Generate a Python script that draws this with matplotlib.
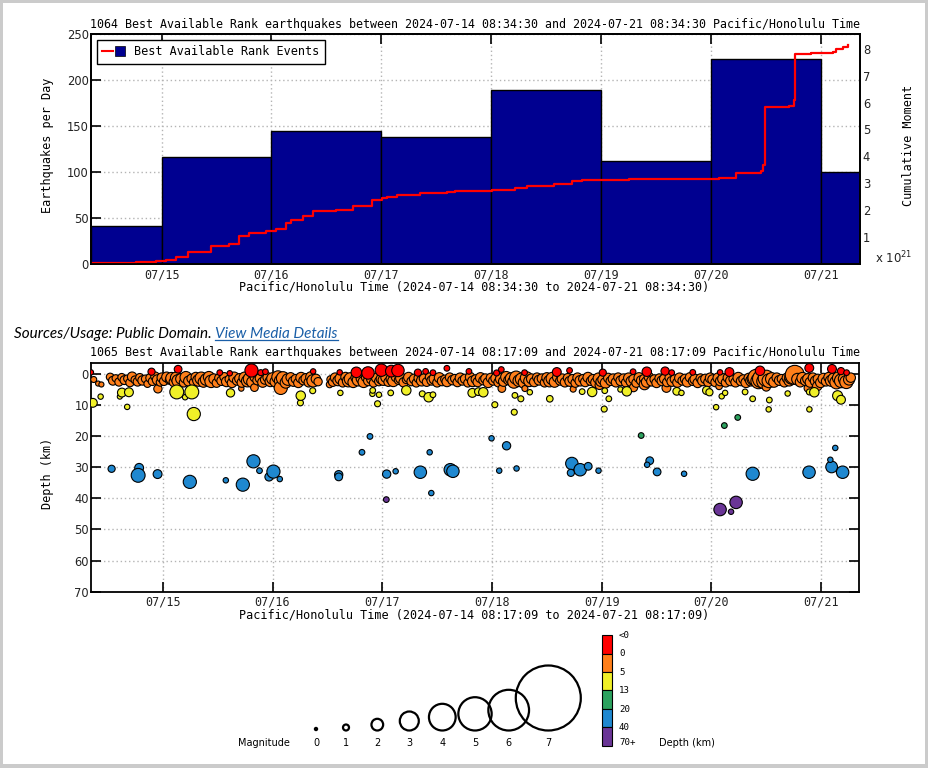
import matplotlib
matplotlib.use('Agg')
import matplotlib.pyplot as plt
import matplotlib.dates as mdates
from matplotlib.lines import Line2D
from matplotlib.legend_handler import HandlerTuple
from matplotlib.patches import Rectangle, Circle
import numpy as np
from datetime import datetime

# ---------------- data ----------------
bin_edges = ["2024-07-14 08:34:30", "2024-07-15", "2024-07-16", "2024-07-17",
             "2024-07-18", "2024-07-19", "2024-07-20", "2024-07-21",
             "2024-07-21 08:34:30"]
per_day = [41, 116, 145, 138, 189, 112, 223, 100]

# cumulative moment (x 10^21), time as decimal day of July 2024
cm_day = [14.356, 14.521, 14.766, 14.949, 15.040, 15.131, 15.237, 15.451, 15.618,
          15.703, 15.800, 15.953, 16.044, 16.135, 16.181, 16.287, 16.378, 16.592,
          16.743, 16.911, 17.002, 17.048, 17.139, 17.352, 17.596, 17.671, 18.006,
          18.219, 18.325, 18.568, 18.736, 18.828, 19.253, 20.074, 20.227, 20.455,
          20.470, 20.491, 20.713, 20.753, 20.765, 20.911, 21.109, 21.139, 21.201,
          21.246]
cm_val = [0.02, 0.03, 0.07, 0.11, 0.16, 0.26, 0.46, 0.67, 0.75,
          1.05, 1.16, 1.24, 1.29, 1.54, 1.65, 1.78, 1.96, 2.00,
          2.17, 2.38, 2.46, 2.50, 2.58, 2.64, 2.69, 2.72, 2.76,
          2.84, 2.91, 2.99, 3.09, 3.13, 3.17, 3.21, 3.39, 3.46,
          3.68, 5.84, 5.87, 6.10, 7.80, 7.86, 7.88, 8.00, 8.08,
          8.13]

# events: (decimal day of July, depth km, magnitude)
shallow_events = [
    (14.37, 1.8, 1.0), (14.41, 3.1, 0.7), (14.44, 3.4, 0.7), (14.52, 1.0, 1.3), (14.545, 2.2, 1.5),
    (14.57, 1.4, 1.2), (14.60, 2.6, 1.4), (14.625, 1.1, 1.3), (14.65, 2.0, 1.5), (14.675, 1.5, 1.2),
    (14.70, 2.8, 1.4), (14.72, 0.9, 1.6), (14.745, 1.9, 1.3), (14.77, 2.5, 1.5), (14.79, 1.2, 1.4),
    (14.815, 2.1, 1.6), (14.84, 1.6, 1.3), (14.86, 3.2, 1.2), (14.885, 1.3, 1.5), (14.905, 2.4, 1.4),
    (14.93, 0.8, 1.5), (14.95, 1.9, 1.7), (14.955, 4.8, 1.4), (14.975, 2.7, 1.3), (14.99, 1.2, 1.6),
    (15.01, 2.3, 1.5), (15.035, 1.0, 1.7), (15.06, 2.0, 1.4), (15.08, 1.4, 2.0), (15.10, 2.6, 1.6),
    (15.12, 1.2, 1.9), (15.14, 2.2, 2.1), (15.165, 1.6, 1.8), (15.19, 2.8, 1.5), (15.21, 1.1, 2.0),
    (15.235, 2.3, 1.7), (15.26, 1.5, 1.5), (15.28, 2.7, 1.4), (15.30, 1.0, 1.6), (15.325, 2.1, 2.0),
    (15.35, 1.4, 2.1), (15.37, 2.6, 1.8), (15.395, 1.8, 2.0), (15.42, 1.0, 1.9), (15.44, 2.4, 2.1),
    (15.465, 1.6, 1.7), (15.49, 2.9, 1.5), (15.51, 1.3, 1.4), (15.535, 2.2, 1.6), (15.56, 1.0, 1.5),
    (15.58, 2.5, 1.7), (15.605, 1.7, 1.4), (15.63, 2.9, 1.6), (15.65, 1.1, 1.8), (15.675, 2.2, 1.5),
    (15.70, 1.5, 1.7), (15.715, 4.7, 0.8), (15.72, 2.8, 1.6), (15.745, 1.2, 1.9), (15.77, 2.3, 2.0),
    (15.79, 1.6, 2.1), (15.815, 2.6, 1.9), (15.835, 4.4, 1.3), (15.84, 1.0, 1.7), (15.86, 2.1, 1.5),
    (15.885, 1.4, 1.6), (15.91, 2.7, 1.7), (15.93, 1.9, 1.5), (15.955, 1.1, 1.6), (15.98, 2.4, 1.8),
    (16.00, 1.5, 2.0), (16.025, 2.5, 1.8), (16.05, 1.0, 2.1), (16.07, 2.2, 2.0), (16.075, 4.5, 2.2),
    (16.095, 1.4, 2.2), (16.12, 2.8, 1.9), (16.14, 1.8, 2.0), (16.165, 1.1, 1.6), (16.19, 2.4, 1.7),
    (16.21, 1.6, 1.5), (16.235, 2.9, 1.6), (16.26, 1.2, 1.8), (16.28, 2.1, 1.5), (16.305, 1.5, 1.7),
    (16.33, 2.7, 1.6), (16.35, 1.0, 1.8), (16.37, 2.2, 2.1), (16.395, 1.6, 1.6), (16.415, 2.5, 1.4),
    (16.52, 3.4, 1.1), (16.53, 1.8, 1.3), (16.55, 2.6, 1.5), (16.57, 1.2, 1.6), (16.595, 2.2, 1.7),
    (16.62, 1.5, 1.9), (16.64, 2.8, 1.5), (16.665, 1.0, 1.6), (16.69, 2.3, 2.0), (16.71, 1.6, 2.1),
    (16.735, 2.7, 1.8), (16.76, 1.2, 1.7), (16.78, 2.0, 2.0), (16.805, 1.5, 1.6), (16.83, 2.6, 1.9),
    (16.85, 1.1, 1.5), (16.875, 2.2, 1.7), (16.90, 1.7, 1.6), (16.92, 2.9, 1.4), (16.945, 1.3, 1.6),
    (16.97, 2.4, 1.5), (16.99, 1.6, 1.7), (17.01, 2.0, 1.8), (17.03, 1.2, 1.6), (17.055, 2.6, 1.5),
    (17.08, 1.6, 1.7), (17.10, 2.3, 1.9), (17.125, 1.0, 1.6), (17.15, 2.0, 1.5), (17.17, 1.4, 1.8),
    (17.195, 2.7, 1.6), (17.22, 1.8, 1.4), (17.24, 1.1, 1.7), (17.265, 2.4, 1.5), (17.29, 1.6, 1.6),
    (17.31, 2.9, 1.4), (17.335, 1.3, 1.7), (17.36, 2.2, 1.8), (17.38, 1.5, 1.6), (17.405, 2.6, 1.5),
    (17.43, 1.0, 1.4), (17.45, 2.1, 1.6), (17.475, 1.6, 1.8), (17.50, 2.8, 1.5), (17.52, 1.2, 1.7),
    (17.545, 2.3, 1.6), (17.57, 1.7, 1.4), (17.59, 2.5, 1.7), (17.615, 1.1, 1.5), (17.64, 2.0, 1.6),
    (17.66, 1.5, 1.4), (17.685, 2.7, 1.5), (17.71, 1.3, 1.7), (17.73, 2.2, 1.5), (17.755, 1.6, 1.6),
    (17.78, 2.9, 1.4), (17.80, 1.0, 1.6), (17.825, 2.4, 1.8), (17.85, 1.7, 1.5), (17.87, 2.6, 1.6),
    (17.895, 1.2, 1.7), (17.92, 2.1, 1.5), (17.94, 1.5, 1.6), (17.965, 2.8, 1.7), (17.99, 1.3, 1.6),
    (18.01, 2.2, 1.5), (18.035, 1.4, 1.7), (18.06, 2.7, 1.6), (18.08, 1.6, 1.8), (18.09, 4.7, 1.3),
    (18.105, 2.4, 1.7), (18.13, 1.0, 1.9), (18.15, 2.0, 1.6), (18.175, 1.5, 2.0), (18.20, 2.6, 2.1),
    (18.22, 1.2, 2.2), (18.245, 2.2, 2.0), (18.27, 1.7, 2.1), (18.29, 2.8, 1.9), (18.30, 4.7, 1.0),
    (18.315, 1.3, 2.1), (18.34, 2.3, 1.9), (18.36, 1.6, 1.7), (18.385, 2.6, 1.6), (18.41, 1.1, 1.5),
    (18.43, 2.0, 1.7), (18.455, 1.5, 1.6), (18.48, 2.8, 1.5), (18.50, 1.2, 1.7), (18.525, 2.3, 2.0),
    (18.55, 1.5, 2.1), (18.57, 2.6, 1.8), (18.595, 1.1, 1.6), (18.62, 2.2, 1.5), (18.64, 1.6, 1.7),
    (18.665, 2.7, 1.6), (18.69, 1.3, 1.5), (18.71, 2.4, 1.7), (18.735, 1.7, 1.6), (18.74, 4.9, 1.0),
    (18.76, 2.9, 1.5), (18.78, 1.2, 1.6), (18.805, 2.2, 1.8), (18.83, 1.6, 1.5), (18.85, 2.6, 1.6),
    (18.875, 1.1, 1.7), (18.90, 2.3, 1.5), (18.92, 1.7, 1.6), (18.945, 2.8, 1.7), (18.97, 1.4, 1.8),
    (18.98, 3.6, 1.5), (18.99, 2.5, 1.6), (19.01, 1.8, 1.7), (19.035, 2.9, 1.8), (19.06, 1.3, 1.6),
    (19.08, 2.3, 1.5), (19.105, 1.6, 1.7), (19.13, 2.7, 1.6), (19.15, 1.1, 1.5), (19.175, 2.2, 1.7),
    (19.20, 1.5, 1.6), (19.22, 2.8, 1.5), (19.245, 1.3, 1.7), (19.27, 2.4, 1.8), (19.29, 4.4, 1.4),
    (19.29, 1.7, 1.6), (19.315, 2.9, 1.5), (19.34, 1.2, 1.7), (19.36, 2.1, 1.6), (19.385, 1.6, 1.5),
    (19.39, 3.4, 1.8), (19.41, 2.6, 1.8), (19.43, 1.0, 1.6), (19.455, 2.3, 1.7), (19.48, 1.7, 1.5),
    (19.50, 2.9, 1.6), (19.525, 1.4, 1.5), (19.55, 2.2, 1.7), (19.57, 1.6, 1.6), (19.59, 4.5, 1.5),
    (19.595, 2.7, 1.5), (19.62, 1.2, 1.6), (19.64, 2.4, 1.7), (19.665, 1.7, 1.5), (19.69, 2.8, 1.6),
    (19.71, 1.3, 1.7), (19.735, 2.2, 1.5), (19.76, 1.6, 1.6), (19.78, 2.6, 1.7), (19.805, 1.1, 1.6),
    (19.83, 2.3, 1.5), (19.85, 1.7, 1.7), (19.875, 2.9, 1.6), (19.90, 1.4, 1.5), (19.92, 2.2, 1.7),
    (19.945, 1.6, 1.6), (19.97, 2.7, 1.5), (19.99, 1.3, 1.7), (20.01, 1.8, 1.6), (20.035, 2.7, 1.5),
    (20.06, 1.3, 1.7), (20.07, 4.0, 1.1), (20.08, 2.3, 1.6), (20.105, 1.6, 1.8), (20.13, 2.8, 1.5),
    (20.15, 1.2, 1.6), (20.175, 2.2, 1.7), (20.20, 1.6, 1.5), (20.22, 2.7, 1.6), (20.245, 1.2, 1.8),
    (20.27, 2.3, 1.6), (20.29, 1.7, 1.5), (20.315, 2.8, 1.7), (20.34, 1.3, 1.6), (20.36, 2.2, 1.8),
    (20.385, 1.6, 2.2), (20.41, 1.2, 2.7), (20.43, 2.3, 2.5), (20.455, 1.6, 2.8), (20.48, 2.4, 2.4),
    (20.50, 4.2, 1.4), (20.50, 1.4, 2.6), (20.525, 2.2, 2.3), (20.55, 1.6, 2.1), (20.57, 2.6, 1.8),
    (20.595, 1.2, 1.6), (20.62, 2.1, 1.7), (20.64, 1.6, 1.5), (20.665, 2.7, 1.6), (20.69, 1.3, 1.7),
    (20.71, 2.2, 1.8), (20.735, 1.0, 2.4), (20.76, 0.3, 3.0), (20.785, 1.7, 2.0), (20.81, 2.6, 1.7),
    (20.83, 1.3, 1.9), (20.855, 2.2, 1.6), (20.88, 4.6, 1.3), (20.88, 1.6, 1.8), (20.90, 2.7, 1.7),
    (20.925, 1.2, 1.6), (20.95, 2.3, 1.8), (20.965, 3.9, 1.6), (20.97, 1.6, 1.6), (20.995, 2.8, 1.7),
    (21.02, 1.5, 1.8), (21.045, 2.4, 1.6), (21.07, 1.1, 1.7), (21.09, 2.2, 1.9), (21.115, 1.6, 2.0),
    (21.14, 2.7, 2.2), (21.16, 1.3, 2.1), (21.185, 2.2, 2.3), (21.21, 1.6, 2.0), (21.23, 2.6, 2.2),
    (21.255, 1.8, 1.9), (21.27, 1.2, 1.6),
]
above_sea_events = [
    (14.344, -0.5, 0.8), (14.897, -0.7, 1.2), (15.139, -1.5, 1.3), (15.519, -0.4, 0.9),
    (15.610, -0.2, 0.8), (15.808, -1.1, 2.2), (15.893, -0.4, 1.0), (15.935, -0.7, 0.9),
    (16.370, -0.8, 0.8), (16.612, -0.5, 0.8), (16.764, -0.5, 1.8), (16.870, -0.3, 2.1),
    (16.992, -1.2, 2.1), (17.083, -0.9, 2.0), (17.143, -1.1, 2.1), (17.325, -0.4, 1.2),
    (17.395, -0.8, 0.9), (17.462, -0.4, 0.9), (17.589, -1.8, 0.9), (17.790, -0.8, 0.9),
    (18.042, -0.3, 1.0), (18.085, -1.4, 0.9), (18.297, -0.4, 0.9), (18.591, -0.6, 1.5),
    (18.707, -1.1, 0.9), (19.010, -0.4, 1.2), (19.286, -0.7, 0.9), (19.411, -0.7, 1.6),
    (19.578, -0.9, 1.4), (19.638, -0.4, 0.9), (19.830, -0.5, 0.9), (20.079, -0.5, 0.8),
    (20.164, -0.6, 1.5), (20.443, -1.0, 1.6), (20.892, -1.9, 1.5), (21.099, -1.6, 1.5),
    (21.181, -0.9, 1.2), (21.232, -0.4, 0.9),
]
mid_events = [
    (14.362, 9.3, 1.5), (14.433, 7.3, 0.8), (14.608, 7.3, 0.7), (14.627, 6.0, 1.5),
    (14.675, 10.6, 0.8), (14.691, 5.9, 1.5), (15.127, 5.8, 2.3), (15.203, 7.5, 0.8),
    (15.264, 5.8, 2.3), (15.282, 12.9, 2.2), (15.617, 6.1, 1.4), (16.254, 9.3, 1.0),
    (16.257, 7.0, 1.6), (16.366, 5.4, 1.0), (16.618, 6.1, 0.8), (16.910, 6.4, 0.8),
    (16.913, 5.3, 0.9), (16.957, 9.6, 1.0), (16.970, 6.7, 0.8), (17.077, 6.1, 0.9),
    (17.219, 5.3, 1.6), (17.365, 6.4, 1.0), (17.423, 7.5, 1.6), (17.462, 6.7, 0.9),
    (17.821, 6.1, 1.5), (17.876, 5.7, 1.3), (17.921, 5.9, 1.6), (18.026, 9.9, 1.0),
    (18.203, 12.3, 1.0), (18.209, 6.9, 0.9), (18.263, 8.0, 1.0), (18.345, 5.9, 0.8),
    (18.527, 8.0, 1.1), (18.822, 5.7, 0.9), (18.913, 5.8, 1.6), (19.023, 11.3, 1.0),
    (19.028, 5.4, 0.9), (19.065, 8.0, 0.9), (19.171, 5.0, 0.8), (19.229, 5.6, 1.6),
    (19.684, 5.6, 1.3), (19.727, 6.1, 0.8), (19.957, 5.3, 1.4), (19.982, 5.9, 1.2),
    (20.043, 10.7, 0.8), (20.094, 7.2, 0.8), (20.125, 6.1, 0.8), (20.307, 5.8, 0.9),
    (20.376, 8.0, 0.9), (20.522, 11.4, 0.8), (20.528, 8.4, 0.9), (20.695, 6.3, 0.8),
    (20.893, 5.8, 1.0), (20.893, 11.4, 0.8), (20.938, 5.9, 1.6), (21.150, 7.0, 1.7),
    (21.181, 8.3, 1.5),
]
deep_events = [
    (14.533, 30.5, 1.2), (14.784, 30.2, 1.5), (14.775, 32.6, 2.3), (14.952, 32.2, 1.5),
    (15.246, 34.7, 2.2), (15.574, 34.2, 0.8), (15.729, 35.6, 2.2), (15.826, 28.1, 2.2),
    (15.881, 31.1, 0.9), (15.968, 33.1, 1.4), (16.008, 31.4, 2.2), (16.066, 33.8, 0.8),
    (16.603, 32.4, 1.4), (16.603, 33.1, 1.3), (16.815, 25.2, 0.9), (16.888, 20.1, 0.9),
    (17.037, 40.4, 0.9), (17.040, 32.2, 1.4), (17.122, 31.3, 0.8), (17.347, 31.6, 2.1),
    (17.432, 25.2, 0.8), (17.447, 38.3, 0.8), (17.620, 30.8, 2.1), (17.644, 31.3, 2.1),
    (17.996, 20.7, 0.8), (18.133, 23.1, 1.4), (18.066, 31.1, 0.8), (18.224, 30.4, 0.8),
    (18.728, 28.8, 2.1), (18.804, 30.8, 2.1), (18.719, 31.8, 1.2), (18.877, 29.7, 1.3),
    (18.971, 31.1, 0.8), (19.360, 19.8, 0.9), (19.438, 27.9, 1.3), (19.414, 29.2, 0.8),
    (19.505, 31.5, 1.3), (19.751, 32.1, 0.8), (20.079, 43.6, 2.1), (20.118, 16.6, 0.9),
    (20.179, 44.3, 0.8), (20.225, 41.3, 2.1), (20.240, 14.0, 0.9), (20.376, 32.1, 2.2),
    (20.890, 31.6, 2.1), (21.096, 29.9, 2.0), (21.084, 27.6, 0.8), (21.129, 23.8, 0.8),
    (21.196, 31.6, 2.1),
]

depth_bounds = [0, 5, 13, 20, 40]
depth_colors = ['#ff0000', '#ff7f1a', '#f0f028', '#2ca25f', '#1f88d0', '#6a3596']
depth_labels = ['<0', '0', '5', '13', '20', '40', '70+']
legend_mags = [0, 1, 2, 3, 4, 5, 6, 7]

# ---------------- style helpers ----------------
W, H = 929, 768
NAVY = '#000090'
MONO = 'DejaVu Sans Mono'
SANS = 'DejaVu Sans'
GRID = dict(color='#b4b4b4', linestyle=(0, (1, 2)), linewidth=1.0)

fig = plt.figure(figsize=(W / 100, H / 100), dpi=100, facecolor='#cbcbcb')
fig.patches.append(Rectangle((3 / W, 1 - 764 / H), 922 / W, 761 / H,
                             transform=fig.transFigure, facecolor='white',
                             edgecolor='none', zorder=-10))


def box(l, t, r, b):
    return [l / W, 1 - b / H, (r - l) / W, (b - t) / H]


base = mdates.date2num(datetime(2024, 7, 1)) - 1


def jd(d):
    return base + np.asarray(d, dtype=float)


def style_axes(ax):
    for s in ax.spines.values():
        s.set_linewidth(1.3)
        s.set_color('black')
    ax.tick_params(direction='in', length=7, width=1.2, top=True, right=True,
                   colors='black', labelcolor='#222222')
    ax.tick_params(axis='x', labelsize=8.5, labelfontfamily=MONO, pad=3)
    ax.tick_params(axis='y', labelsize=8.3, labelfontfamily=SANS, pad=1.5)
    ax.xaxis.set_major_locator(mdates.DayLocator())
    ax.xaxis.set_major_formatter(mdates.DateFormatter('%m/%d'))
    ax.grid(True, **GRID)
    ax.set_axisbelow(True)


# ---------------- top chart ----------------
ax1 = fig.add_axes(box(91, 34, 860, 264))
edges = mdates.datestr2num(bin_edges)
ax1.bar(edges[:-1], per_day, width=np.diff(edges), align='edge', color=NAVY,
        edgecolor='black', linewidth=1.0, zorder=2)
ax1.set_xlim(edges[0], edges[-1])
ax1.set_ylim(0, 250)
ax1.set_yticks(range(0, 251, 50))
style_axes(ax1)

ax2 = ax1.twinx()
ax2.plot(jd(cm_day), cm_val, drawstyle='steps-post', color='red', lw=1.6)
ax2.set_ylim(0, 8.55)
ax2.set_yticks(range(1, 9))
ax2.tick_params(axis='y', length=0, pad=2, labelsize=8.3, labelcolor='#222222')
for s in ax2.spines.values():
    s.set_linewidth(1.3)
handle = (Line2D([], [], color='red', lw=1.5),
          Line2D([], [], marker='s', color=NAVY, ls='none', ms=7,
                 mec='black', mew=0.5))
ax2.legend([handle], ['Best Available Rank Events'],
           handler_map={tuple: HandlerTuple(ndivide=None, pad=0.1)},
           loc='upper left', borderaxespad=0.5, fancybox=False,
           edgecolor='black', framealpha=1,
           prop={'family': MONO, 'size': 8.5}, handlelength=2.0,
           handletextpad=0.7, borderpad=0.45)

fig.text(475 / W, 1 - 24.5 / H,
         '1064 Best Available Rank earthquakes between 2024-07-14 08:34:30 '
         'and 2024-07-21 08:34:30 Pacific/Honolulu Time',
         family=MONO, size=8.4, ha='center', va='center')
fig.text(474 / W, 1 - 287 / H,
         'Pacific/Honolulu Time (2024-07-14 08:34:30 to 2024-07-21 08:34:30)',
         family=MONO, size=8.5, ha='center', va='center')
fig.text(48 / W, 1 - 145 / H, 'Earthquakes per Day', family=MONO, size=8.5,
         rotation=90, ha='center', va='center')
fig.text(909 / W, 1 - 145 / H, 'Cumulative Moment', family=MONO, size=8.5,
         rotation=90, ha='center', va='center')
fig.text(875 / W, 1 - 258 / H, 'x 10$^{21}$', family=SANS, size=8.5,
         ha='left', va='center', color='#222222')

# ---------------- source line ----------------
renderer = fig.canvas.get_renderer()
t1 = fig.text(14 / W, 1 - 334 / H, 'Sources/Usage: Public Domain. ',
              family='Lato', style='italic', size=11, va='center')
bb = t1.get_window_extent(renderer)
t2 = fig.text(bb.x1 / W, 1 - 334 / H, 'View Media Details', family='Lato',
              style='italic', size=11, va='center', color='#1a5fa8')
bb2 = t2.get_window_extent(renderer)
fig.add_artist(Line2D([bb2.x0 / W, bb2.x1 / W], [(bb2.y0 + 1) / H] * 2,
                      color='#1a5fa8', lw=0.9))

# ---------------- depth chart ----------------
ax3 = fig.add_axes(box(91, 362.7, 859, 591.7))
events = shallow_events + above_sea_events + mid_events + deep_events
ev_t = jd([e[0] for e in events])
ev_d = np.array([e[1] for e in events])
ev_m = np.array([e[2] for e in events])
ev_c = [depth_colors[np.searchsorted(depth_bounds, d, side='right')] for d in ev_d]
diam_px = np.interp(ev_m, [0, 1, 2, 3, 4, 5, 6], [3, 6, 11.7, 19, 26.7, 33.3, 40.7])
ax3.scatter(ev_t, ev_d, s=(diam_px * 0.72) ** 2, c=ev_c, edgecolors='black',
            linewidths=0.8, zorder=3)
ax3.set_xlim(mdates.datestr2num('2024-07-14 08:17:09'),
             mdates.datestr2num('2024-07-21 08:17:09'))
ax3.set_ylim(70, -3.6)
ax3.set_yticks(range(0, 71, 10))
style_axes(ax3)

fig.text(475 / W, 1 - 352.3 / H,
         '1065 Best Available Rank earthquakes between 2024-07-14 08:17:09 '
         'and 2024-07-21 08:17:09 Pacific/Honolulu Time',
         family=MONO, size=8.4, ha='center', va='center')
fig.text(474 / W, 1 - 615 / H,
         'Pacific/Honolulu Time (2024-07-14 08:17:09 to 2024-07-21 08:17:09)',
         family=MONO, size=8.5, ha='center', va='center')
fig.text(48 / W, 1 - 473 / H, 'Depth (km)', family=MONO, size=8.5,
         rotation=90, ha='center', va='center')

# ---------------- magnitude / depth legend ----------------
axL = fig.add_axes([0, 0, 1, 1])
axL.set_xlim(0, W)
axL.set_ylim(H, 0)
axL.axis('off')
circ_x = [316, 346, 377.3, 409.3, 442.3, 475, 508.7, 548.3]
circ_d = [3, 6, 11.7, 19, 26.7, 33.3, 40.7, 65]
for i, m in enumerate(legend_mags):
    r = circ_d[i] / 2
    cy = 730.5 - r
    if m == 0:
        axL.add_patch(Circle((circ_x[i], cy), r, facecolor='black', edgecolor='black'))
    else:
        axL.add_patch(Circle((circ_x[i], cy), r, fill=False, edgecolor='black', lw=1.6))
    axL.text(circ_x[i], 742.7, str(m), family=SANS, size=7, ha='center', va='center')
axL.text(264, 742.7, 'Magnitude', family=SANS, size=7, ha='center', va='center')
cb_edges = [635, 653.7, 672.3, 690.3, 709, 727, 746]
for i, c in enumerate(depth_colors):
    axL.add_patch(Rectangle((601.7, cb_edges[i]), 10, cb_edges[i + 1] - cb_edges[i],
                            facecolor=c, edgecolor='black', lw=0.8))
cb_label_y = [636, 654, 672.5, 690.5, 709, 727, 742.5]
for lab, y in zip(depth_labels, cb_label_y):
    axL.text(619, y, lab, family=MONO, size=6.6, ha='left', va='center')
axL.text(686.5, 742.5, 'Depth (km)', family=SANS, size=7, ha='center', va='center')

fig.savefig('out.png', dpi=100, facecolor=fig.get_facecolor())
